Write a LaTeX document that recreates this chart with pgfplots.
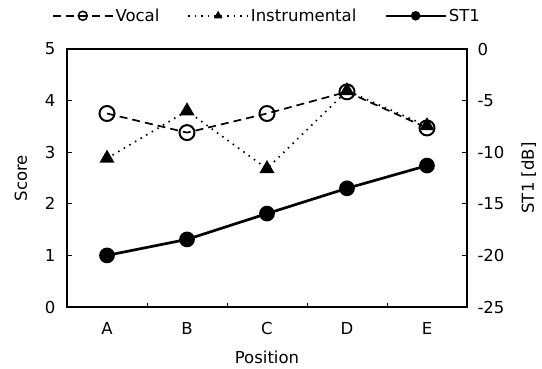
\documentclass[border=0pt]{standalone}
\usepackage{pgfplots}
\pgfplotsset{compat=1.18}
\usepackage{fontspec}
\setmainfont{DejaVu Sans}
\begin{document}
\begin{tikzpicture}
\useasboundingbox (-67pt,-62pt) rectangle (475pt,307pt);
\pgfplotsset{every axis/.append style={
  scale only axis, width=400pt, height=258pt, at={(0pt,0pt)}, anchor=south west,
  xmin=-0.5, xmax=4.5,
  font=\fontsize{16.5}{19}\selectfont,
  /pgf/number format/assume math mode=true,
  axis line style={line width=2.6pt},
  tick style={line width=0.8pt, black},
  major tick length=5pt, minor tick length=4pt,
}}
\begin{axis}[
  ymin=0, ymax=5, ytick={0,1,2,3,4,5},
  xtick={0,1,2,3,4}, xticklabels={A,B,C,D,E},
  major x tick style={draw=none},
  minor xtick={0.5,1.5,2.5,3.5},
  xtick pos=bottom, ytick pos=left,
  xticklabel style={yshift=-12pt},
  yticklabel style={xshift=-8pt},
  xlabel={Position}, ylabel={Score},
  xlabel shift=9pt, ylabel shift=11pt,
]
\addplot[black, line width=1.7pt, dash pattern=on 8pt off 5pt, mark=o, mark size=7.5pt,
  mark options={solid, fill=white, line width=2pt}]
  coordinates {(0,3.75) (1,3.38) (2,3.75) (3,4.17) (4,3.47)};
\addplot[black, line width=1.7pt, dash pattern=on 1.5pt off 5pt, mark=triangle*, mark size=7pt,
  mark options={solid, fill=black}]
  coordinates {(0,2.88) (1,3.80) (2,2.68) (3,4.19) (4,3.51)};
\end{axis}
\begin{axis}[
  ymin=-25, ymax=0, ytick={-25,-20,-15,-10,-5,0},
  axis y line*=right, axis x line=none,
  yticklabel style={xshift=7pt},
  ylabel={ST1 [dB]}, ylabel shift=10pt,
  legend columns=3,
  legend style={at={(0.5,1)}, anchor=south, yshift=22pt, draw=none, fill=none,
    nodes={inner xsep=2pt},
    /tikz/every even column/.append style={column sep=26pt}},
  legend image code/.code={
    \draw[#1, mark=none] (0pt,0pt) -- (60pt,0pt);
    \draw[#1, only marks] plot coordinates {(30pt,0pt)};
  },
]
\addlegendimage{black, line width=1.5pt, dash pattern=on 8pt off 5pt, mark=o, mark size=4.5pt, mark options={solid, fill=white, line width=1.5pt}}
\addlegendentry{Vocal}
\addlegendimage{black, line width=1.5pt, dash pattern=on 1.5pt off 5pt, mark=triangle*, mark size=3.5pt, mark options={solid, fill=black}}
\addlegendentry{Instrumental}
\addlegendimage{black, line width=2.5pt, mark=*, mark size=3.5pt, mark options={solid}}
\addlegendentry{ST1}
\addplot[black, line width=2.7pt, mark=*, mark size=6.5pt, forget plot]
  coordinates {(0,-20.0) (1,-18.45) (2,-15.95) (3,-13.5) (4,-11.3)};
\end{axis}
\end{tikzpicture}
\end{document}
